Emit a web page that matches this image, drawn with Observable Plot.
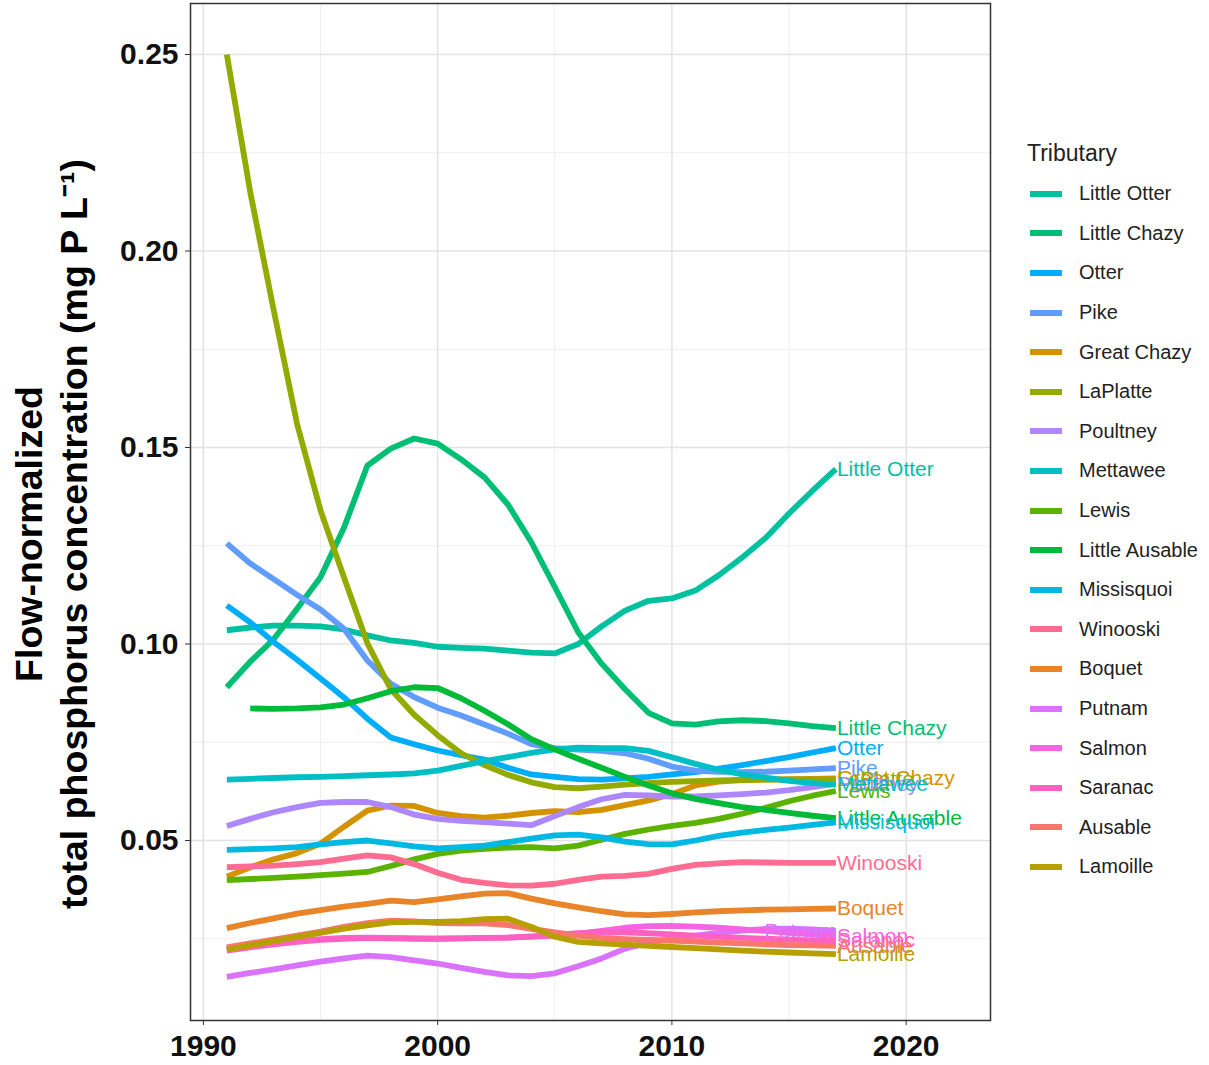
<!DOCTYPE html>
<html>
<head>
<meta charset="utf-8">
<script src="https://cdn.jsdelivr.net/npm/d3@7"></script>
<script src="https://cdn.jsdelivr.net/npm/@observablehq/plot@0.6"></script>
<style>
  html, body { margin: 0; padding: 0; background: #fff; }
  #wrap { position: relative; width: 1209px; height: 1065px; font-family: "Liberation Sans", Arial, sans-serif; }
  #chart svg { display: block; }
  #legend { position: absolute; left: 1027px; top: 138px; color: #222; }
  #legend .title { font-size: 23px; height: 36px; line-height: 30px; }
  #legend .item { display: flex; align-items: center; height: 39.6px; }
  #legend .sw { width: 32px; height: 6px; margin-left: 3px; margin-right: 17px; }
  #legend .lab { font-size: 20px; }
</style>
</head>
<body>
<div id="wrap">
  <div id="chart"></div>
  <div id="legend"></div>
</div>
<script>
// ---- Data ----
const years = [1991,1992,1993,1994,1995,1996,1997,1998,1999,2000,2001,2002,2003,2004,2005,2006,2007,2008,2009,2010,2011,2012,2013,2014,2015,2016,2017];

const tributaries = ["Little Otter","Little Chazy","Otter","Pike","Great Chazy","LaPlatte","Poultney","Mettawee","Lewis","Little Ausable","Missisquoi","Winooski","Boquet","Putnam","Salmon","Saranac","Ausable","Lamoille"];

const palette = ["#00C19F","#00BF74","#00ADFA","#619CFF","#D49200","#93AA00","#AE87FF","#00BFC4","#5BB300","#00BA38","#00B9E3","#FF6C91","#E98429","#DB72FB","#F564E3","#FF61C3","#F8766D","#B79F00"];

const littleOtter   = [0.1035,0.1042,0.1047,0.1047,0.1045,0.1037,0.1022,0.1009,0.1003,0.0993,0.0990,0.0988,0.0983,0.0978,0.0976,0.1000,0.1045,0.1085,0.1110,0.1116,0.1136,0.1175,0.1220,0.1270,0.1332,0.1390,0.1445];
const littleChazy   = [0.0890,0.0955,0.1012,0.1090,0.1170,0.1296,0.1454,0.1497,0.1523,0.1510,0.1470,0.1424,0.1355,0.1259,0.1145,0.1030,0.0950,0.0885,0.0825,0.0798,0.0795,0.0803,0.0806,0.0804,0.0798,0.0791,0.0786];
const otter         = [0.1098,0.1055,0.1005,0.0960,0.0912,0.0864,0.0810,0.0762,0.0745,0.0729,0.0717,0.0706,0.0685,0.0668,0.0662,0.0656,0.0655,0.0658,0.0662,0.0668,0.0674,0.0683,0.0692,0.0702,0.0712,0.0724,0.0735];
const pike          = [0.1256,0.1205,0.1165,0.1125,0.1088,0.1039,0.0958,0.0899,0.0865,0.0838,0.0818,0.0795,0.0772,0.0745,0.0735,0.0731,0.0728,0.0722,0.0708,0.0688,0.0678,0.0675,0.0674,0.0675,0.0678,0.0681,0.0684];
const greatChazy    = [0.0408,0.0432,0.0452,0.0468,0.0492,0.0535,0.0576,0.0589,0.0588,0.0570,0.0562,0.0558,0.0563,0.0570,0.0575,0.0572,0.0578,0.0590,0.0602,0.0618,0.0640,0.0650,0.0654,0.0655,0.0656,0.0657,0.0658];
const laPlatte      = [0.2500,0.2150,0.1850,0.1560,0.1340,0.1170,0.1002,0.0885,0.0820,0.0768,0.0722,0.0692,0.0667,0.0648,0.0636,0.0633,0.0637,0.0642,0.0646,0.0649,0.0651,0.0653,0.0654,0.0655,0.0655,0.0655,0.0655];
const poultney      = [0.0537,0.0555,0.0572,0.0585,0.0596,0.0598,0.0598,0.0585,0.0566,0.0555,0.0550,0.0547,0.0543,0.0539,0.0562,0.0585,0.0605,0.0616,0.0615,0.0612,0.0612,0.0615,0.0618,0.0622,0.0628,0.0636,0.0644];
const mettawee      = [0.0655,0.0657,0.0659,0.0661,0.0662,0.0664,0.0666,0.0668,0.0671,0.0678,0.0690,0.0702,0.0712,0.0723,0.0732,0.0736,0.0735,0.0735,0.0728,0.0712,0.0695,0.0680,0.0668,0.0660,0.0652,0.0646,0.0642];
const lewis         = [0.0399,0.0402,0.0405,0.0408,0.0412,0.0416,0.0420,0.0435,0.0452,0.0466,0.0474,0.0479,0.0482,0.0483,0.0480,0.0487,0.0502,0.0517,0.0528,0.0537,0.0545,0.0555,0.0568,0.0583,0.0600,0.0614,0.0626];
const littleAusable = [null,0.0836,0.0835,0.0836,0.0839,0.0846,0.0862,0.0880,0.0890,0.0888,0.0862,0.0830,0.0796,0.0758,0.0732,0.0708,0.0685,0.0662,0.0640,0.0620,0.0606,0.0595,0.0585,0.0578,0.0570,0.0563,0.0557];
const missisquoi    = [0.0476,0.0478,0.0480,0.0483,0.0490,0.0496,0.0500,0.0493,0.0485,0.0480,0.0483,0.0487,0.0496,0.0505,0.0513,0.0515,0.0508,0.0497,0.0491,0.0490,0.0500,0.0512,0.0520,0.0527,0.0533,0.0540,0.0546];
const winooski      = [0.0432,0.0434,0.0436,0.0440,0.0445,0.0454,0.0462,0.0457,0.0440,0.0418,0.0400,0.0392,0.0386,0.0385,0.0390,0.0400,0.0408,0.0410,0.0415,0.0428,0.0438,0.0442,0.0445,0.0444,0.0443,0.0443,0.0443];
const boquet        = [0.0277,0.0290,0.0302,0.0314,0.0323,0.0332,0.0339,0.0347,0.0343,0.0350,0.0358,0.0365,0.0366,0.0352,0.0340,0.0330,0.0320,0.0312,0.0310,0.0313,0.0317,0.0320,0.0322,0.0324,0.0325,0.0326,0.0327];
const putnam        = [0.0153,0.0163,0.0172,0.0182,0.0192,0.0200,0.0207,0.0203,0.0195,0.0187,0.0176,0.0166,0.0157,0.0155,0.0162,0.0180,0.0200,0.0225,0.0240,0.0250,0.0258,0.0265,0.0271,0.0275,0.0276,0.0274,0.0270];
const salmon        = [0.0225,0.0232,0.0238,0.0244,0.0249,0.0252,0.0253,0.0252,0.0251,0.0250,0.0251,0.0252,0.0253,0.0255,0.0258,0.0263,0.0270,0.0278,0.0282,0.0283,0.0281,0.0278,0.0274,0.0270,0.0265,0.0261,0.0257];
const saranac       = [0.0220,0.0228,0.0236,0.0242,0.0247,0.0250,0.0252,0.0251,0.0250,0.0250,0.0251,0.0252,0.0253,0.0256,0.0260,0.0264,0.0266,0.0266,0.0264,0.0261,0.0258,0.0255,0.0252,0.0250,0.0248,0.0246,0.0245];
const ausable       = [0.0228,0.0238,0.0248,0.0258,0.0268,0.0280,0.0290,0.0296,0.0294,0.0290,0.0289,0.0289,0.0285,0.0275,0.0266,0.0258,0.0252,0.0249,0.0247,0.0245,0.0243,0.0240,0.0238,0.0236,0.0234,0.0233,0.0232];
const lamoille      = [0.0222,0.0233,0.0244,0.0255,0.0265,0.0276,0.0284,0.0292,0.0293,0.0293,0.0295,0.0300,0.0301,0.0280,0.0255,0.0242,0.0238,0.0235,0.0232,0.0229,0.0226,0.0223,0.0220,0.0217,0.0215,0.0213,0.0211];

const seriesValues = [littleOtter, littleChazy, otter, pike, greatChazy, laPlatte, poultney, mettawee, lewis, littleAusable, missisquoi, winooski, boquet, putnam, salmon, saranac, ausable, lamoille];

const xTicks = [1990, 2000, 2010, 2020];
const yTicks = [0.05, 0.10, 0.15, 0.20, 0.25];
const xMinor = [1995, 2005, 2015];
const yMinor = [0.025, 0.075, 0.125, 0.175, 0.225];
const yTitle = "Flow-normalized\ntotal phosphorus concentration (mg P L\u207B\u00B9)";
const leftLabels = new Set(["Putnam"]);

// ---- Build table ----
const rows = [];
tributaries.forEach((name, i) => {
  seriesValues[i].forEach((v, j) => {
    if (v != null) rows.push({name, year: years[j], value: v});
  });
});
const ends = tributaries.map(name => {
  const r = rows.filter(d => d.name === name);
  return r[r.length - 1];
});

const font = "'Liberation Sans', Arial, sans-serif";

const chart = Plot.plot({
  width: 1000,
  height: 1065,
  marginLeft: 190,
  marginRight: 10,
  marginTop: 3,
  marginBottom: 45,
  style: {fontFamily: font, background: "#fff", overflow: "visible"},
  x: {domain: [1989.45, 2023.6]},
  y: {domain: [0.0042, 0.26298]},
  color: {domain: tributaries, range: palette},
  marks: [
    Plot.gridX(xMinor, {stroke: "#ebebeb", strokeOpacity: 1, strokeWidth: 0.8}),
    Plot.gridY(yMinor, {stroke: "#ebebeb", strokeOpacity: 1, strokeWidth: 0.8}),
    Plot.gridX(xTicks, {stroke: "#e3e3e3", strokeOpacity: 1, strokeWidth: 1.5}),
    Plot.gridY(yTicks, {stroke: "#e3e3e3", strokeOpacity: 1, strokeWidth: 1.5}),
    Plot.line(rows, {x: "year", y: "value", z: "name", stroke: "name", strokeWidth: 5.8, strokeLinejoin: "round", strokeLinecap: "butt"}),
    Plot.text(ends.filter(d => !leftLabels.has(d.name)), {x: "year", y: "value", text: "name", fill: "name", textAnchor: "start", dx: 1, fontSize: 21, fontFamily: font}),
    Plot.text(ends.filter(d => leftLabels.has(d.name)), {x: "year", y: "value", text: "name", fill: "name", textAnchor: "end", dx: 1, fontSize: 21, fontFamily: font}),
    Plot.frame({stroke: "#333", strokeWidth: 1.5}),
    Plot.axisX(xTicks, {tickSize: 5, tickPadding: 9, tickFormat: d3.format("d"), fontSize: 30, fontWeight: "bold", stroke: "#333", fill: "#111", label: null}),
    Plot.axisY(yTicks, {tickSize: 5, tickPadding: 7, tickFormat: d3.format(".2f"), fontSize: 30, fontWeight: "bold", stroke: "#333", fill: "#111", label: null}),
    Plot.text([yTitle], {text: d => d, frameAnchor: "left", textAnchor: "middle", lineAnchor: "middle", rotate: -90, dx: -140, dy: 22, fontSize: 37.5, fontWeight: "bold", lineHeight: 1.2, fill: "#000", fontFamily: font})
  ]
});
document.getElementById("chart").appendChild(chart);

// ---- Legend ----
const legend = d3.select("#legend");
legend.append("div").attr("class", "title").text("Tributary");
tributaries.forEach((name, i) => {
  const item = legend.append("div").attr("class", "item");
  item.append("div").attr("class", "sw").style("background", palette[i]);
  item.append("div").attr("class", "lab").text(name);
});
</script>
</body>
</html>
